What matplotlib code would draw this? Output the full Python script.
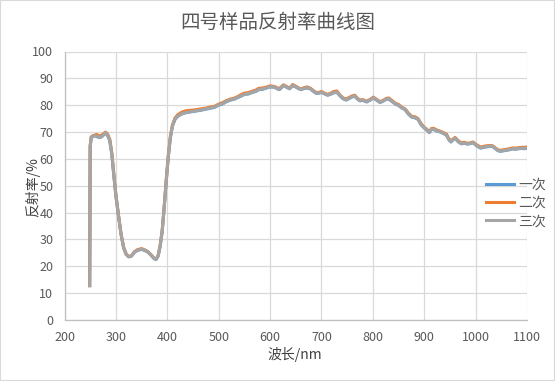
import matplotlib
matplotlib.use("Agg")
import matplotlib.pyplot as plt
from matplotlib.patches import Rectangle

plt.rcParams['font.family'] = ['Noto Sans CJK SC', 'DejaVu Sans']

# 波长 (nm)
bochang = [249, 250, 252, 256, 262, 268, 272, 276, 280, 284, 288, 292, 296, 300, 305, 310, 315, 320, 325, 330,
           336, 342, 350, 356, 362, 368, 374, 378, 382, 386, 390, 394, 398, 402, 406, 410, 415, 420, 428, 436,
           445, 455, 465, 475, 485, 492, 500, 508, 515, 523, 530, 538, 545, 550, 558, 565, 572, 578, 585, 592,
           600, 608, 614, 618, 622, 626, 632, 638, 644, 650, 656, 660, 666, 672, 678, 684, 690, 696, 700, 706,
           712, 718, 724, 730, 736, 742, 748, 754, 760, 765, 770, 775, 780, 788, 795, 801, 807, 814, 820, 826,
           831, 838, 844, 850, 856, 863, 869, 876, 882, 888, 894, 900, 905, 910, 914, 918, 924, 930, 937, 943,
           948, 952, 956, 960, 966, 972, 978, 984, 990, 995, 1000, 1005, 1010, 1016, 1022, 1028, 1033, 1038, 1043, 1048,
           1054, 1060, 1066, 1072, 1078, 1084, 1090, 1096, 1100]

# 三次 (灰)
sanci = [12.8, 64.5, 67.8, 68.4, 68.6, 68.0, 68.3, 69.0, 69.8, 68.8, 67.0, 62.0, 54.0, 46.5, 39.0, 32.0, 27.0, 24.5, 23.6, 23.8,
         25.3, 26.0, 26.4, 26.0, 25.4, 24.3, 23.0, 22.6, 23.8, 27.5, 33.0, 42.0, 52.0, 61.0, 68.0, 72.3, 74.8, 75.9, 76.8, 77.3,
         77.6, 77.9, 78.2, 78.6, 79.0, 79.3, 80.1, 80.6, 81.4, 82.0, 82.3, 83.0, 83.6, 84.1, 84.3, 84.8, 85.2, 85.9, 86.0, 86.4,
         86.9, 86.8, 86.2, 85.9, 86.6, 87.4, 86.8, 86.2, 87.4, 86.9, 86.2, 85.9, 86.3, 86.5, 86.2, 85.3, 84.5, 84.6, 84.9, 84.3,
         83.8, 84.2, 84.7, 84.9, 83.6, 82.5, 82.0, 82.6, 83.2, 83.4, 82.4, 81.7, 81.9, 81.3, 82.0, 82.8, 82.0, 81.1, 81.6, 82.3,
         82.4, 81.4, 80.5, 80.0, 79.1, 78.4, 76.8, 75.6, 75.4, 74.8, 72.8, 71.6, 70.8, 69.9, 71.0, 71.1, 70.5, 70.2, 69.6, 69.0,
         67.2, 66.4, 67.2, 67.8, 66.5, 65.7, 65.9, 65.6, 65.8, 66.1, 65.3, 64.6, 64.1, 64.4, 64.6, 64.8, 64.7, 64.0, 63.2, 62.9,
         63.1, 63.3, 63.5, 63.8, 63.7, 63.9, 64.0, 63.9, 64.1]

# 二次 (橙)
erci = [12.8, 64.8, 68.0, 68.6, 69.1, 68.6, 68.8, 69.4, 70.0, 69.2, 67.4, 62.3, 54.2, 46.6, 39.1, 32.1, 27.1, 24.6, 23.7, 23.9,
        25.4, 26.2, 26.6, 26.1, 25.5, 24.4, 23.1, 22.7, 23.9, 27.6, 33.2, 42.2, 52.3, 61.3, 68.3, 72.6, 75.2, 76.4, 77.4, 77.9,
        78.1, 78.3, 78.6, 78.9, 79.4, 79.6, 80.4, 81.0, 81.7, 82.3, 82.6, 83.3, 84.1, 84.5, 84.7, 85.2, 85.6, 86.3, 86.4, 86.7,
        87.2, 87.0, 86.5, 86.1, 86.9, 87.6, 87.0, 86.4, 87.7, 87.1, 86.4, 86.1, 86.5, 86.8, 86.4, 85.5, 84.7, 84.8, 85.1, 84.5,
        84.0, 84.5, 85.1, 85.3, 83.8, 82.7, 82.3, 82.9, 83.5, 83.7, 82.6, 81.9, 82.1, 81.5, 82.2, 83.0, 82.2, 81.3, 81.8, 82.5,
        82.7, 81.6, 80.7, 80.3, 79.3, 78.6, 77.1, 75.8, 75.7, 75.0, 73.1, 71.8, 71.0, 70.2, 71.3, 71.4, 70.8, 70.4, 69.8, 69.3,
        67.5, 66.8, 67.4, 68.0, 66.8, 66.0, 66.2, 65.8, 66.0, 66.3, 65.5, 64.9, 64.4, 64.7, 64.9, 65.0, 64.9, 64.2, 63.4, 63.2,
        63.4, 63.6, 63.8, 64.1, 64.0, 64.2, 64.3, 64.3, 64.5]

# 一次 (蓝)
yici = [12.8, 65.0, 68.2, 68.7, 68.4, 67.9, 68.2, 68.9, 69.6, 68.6, 66.8, 61.8, 53.8, 46.3, 38.9, 31.9, 26.9, 24.4, 23.5, 23.7,
        25.2, 25.9, 26.3, 25.9, 25.3, 24.2, 22.9, 22.5, 23.7, 27.3, 32.8, 41.8, 51.8, 60.8, 67.8, 72.2, 74.7, 75.8, 76.7, 77.2,
        77.5, 77.8, 78.1, 78.5, 78.9, 79.2, 80.0, 80.5, 81.3, 81.9, 82.2, 82.9, 83.5, 84.0, 84.2, 84.7, 85.1, 85.8, 85.9, 86.3,
        86.8, 86.7, 86.1, 85.8, 86.5, 87.3, 86.7, 86.1, 87.3, 86.8, 86.1, 85.8, 86.2, 86.4, 86.1, 85.2, 84.4, 84.5, 84.8, 84.2,
        83.7, 84.1, 84.6, 84.8, 83.5, 82.4, 81.9, 82.5, 83.1, 83.3, 82.3, 81.6, 81.8, 81.2, 81.9, 82.7, 81.9, 81.0, 81.5, 82.2,
        82.3, 81.3, 80.4, 79.9, 79.0, 78.3, 76.7, 75.5, 75.3, 74.7, 72.7, 71.5, 70.7, 69.8, 70.9, 71.0, 70.4, 70.1, 69.5, 68.9,
        67.1, 66.3, 67.1, 67.7, 66.4, 65.6, 65.8, 65.5, 65.7, 66.0, 65.2, 64.5, 64.0, 64.3, 64.5, 64.7, 64.6, 63.9, 63.1, 62.8,
        63.0, 63.2, 63.4, 63.7, 63.6, 63.8, 63.9, 63.8, 64.0]

huise = '#595959'

fig = plt.figure(figsize=(5.55, 3.81), dpi=100)
fig.patches.append(Rectangle((0, 0), 1, 1, transform=fig.transFigure, fill=False,
                             edgecolor='#D9D9D9', linewidth=1.5))
ax = fig.add_axes([64.5 / 555, 61 / 381, 462.5 / 555, 268.5 / 381])

ax.plot(bochang, yici, color='#5B9BD5', linewidth=2.2, label='一次', zorder=3)
ax.plot(bochang, erci, color='#ED7D31', linewidth=2.2, label='二次', zorder=4)
ax.plot(bochang, sanci, color='#A5A5A5', linewidth=2.2, label='三次', zorder=5)

ax.set_xlim(200, 1100)
ax.set_ylim(0, 100)
ax.set_xticks(range(200, 1101, 100))
ax.set_yticks(range(0, 101, 10))
ax.grid(True, color='#D9D9D9', linewidth=0.9)
ax.set_axisbelow(True)
for lado in ['top', 'right']:
    ax.spines[lado].set_visible(False)
for lado in ['left', 'bottom']:
    ax.spines[lado].set_color('#BFBFBF')
    ax.spines[lado].set_linewidth(0.9)
ax.tick_params(length=0, labelsize=9, labelcolor=huise, pad=8)

fig.suptitle('四号样品反射率曲线图', fontsize=14, color=huise, y=1 - 22 / 381, va='center')
fig.text(295 / 555, 1 - 355 / 381, '波长/nm', fontsize=10, color='#404040', ha='center', va='center')
fig.text(33 / 555, 1 - 187 / 381, '反射率/%', fontsize=10, color='#404040', ha='center', va='center',
         rotation=90)

ax.legend(loc='center left', bbox_to_anchor=(486 / 555, 1 - 203 / 381), bbox_transform=fig.transFigure,
          frameon=False, fontsize=10, labelcolor=huise, handlelength=2.0, handletextpad=0.3,
          labelspacing=0.3, borderpad=0, borderaxespad=0)

fig.savefig('out.png', dpi=100)
